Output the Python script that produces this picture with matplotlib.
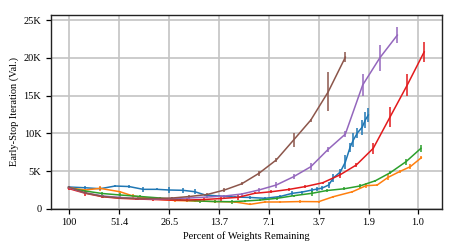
import matplotlib
matplotlib.use('Agg')
import matplotlib.pyplot as plt
from matplotlib.ticker import FixedLocator, NullLocator, FuncFormatter

plt.rcParams['font.family'] = ['Liberation Serif', 'DejaVu Serif']

# 各曲线数据 (剩余权重百分比, 早停迭代次数, 误差)
blue_x = [100, 80.4, 66.0, 54.1, 45.0, 37.4, 31.1, 26.5, 22.1, 18.9, 16.5, 13.7, 11.1, 9.12,
          7.49, 6.14, 5.24, 4.60, 4.03, 3.76, 3.53, 3.24, 3.05, 2.78, 2.60, 2.44, 2.34, 2.22,
          2.08, 2.00, 1.92]
blue_y = [2880, 2780, 2650, 3010, 2940, 2570, 2570, 2480, 2440, 2250, 1820, 1680, 1550, 1490,
          1380, 1620, 2040, 2210, 2480, 2610, 2740, 3140, 4070, 4870, 6190, 8180, 9110, 10040,
          10830, 11760, 12430]
blue_err = [150, 200, 200, 150, 150, 300, 150, 400, 350, 300, 150, 150, 150, 150,
            150, 150, 300, 200, 300, 250, 300, 400, 500, 400, 900, 600, 900, 700,
            1000, 1100, 900]

orange_x = [100, 80.4, 66.0, 50.7, 42.7, 31.9, 24.6, 18.9, 14.5, 11.1, 9.12, 7.49, 6.14,
            4.72, 3.70, 3.05, 2.37, 1.98, 1.71, 1.48, 1.27, 1.105, 0.956]
orange_y = [2790, 2480, 2700, 2250, 1680, 1290, 1090, 1020, 950, 890, 580, 890, 890,
            950, 930, 1590, 2250, 3050, 3140, 4160, 4930, 5570, 6760]
orange_err = [150, 150, 300, 150, 300, 150, 150, 150, 150, 150, 150, 150, 150,
              150, 150, 150, 150, 300, 150, 400, 150, 300, 200]

green_x = [100, 80.4, 64.3, 50.7, 38.9, 29.9, 23.0, 17.6, 14.5, 11.6, 9.74, 8.0, 6.4,
           5.15, 4.05, 3.32, 2.63, 2.15, 1.75, 1.44, 1.17, 0.96]
green_y = [2740, 2350, 2020, 1820, 1620, 1420, 1150, 1020, 950, 930, 1020, 1150, 1380,
           1720, 2040, 2410, 2650, 3010, 3710, 4770, 6230, 8010]
green_err = [150, 150, 150, 200, 150, 150, 150, 200, 150, 250, 150, 150, 200,
             150, 300, 150, 200, 300, 150, 200, 400, 500]

red_x = [100, 80, 64, 51.2, 41.0, 32.8, 26.2, 21.0, 16.8, 13.4, 10.7, 8.6, 6.9, 5.5,
         4.4, 3.5, 2.8, 2.25, 1.8, 1.44, 1.15, 0.92]
red_y = [2680, 2040, 1590, 1380, 1290, 1220, 1150, 1150, 1220, 1350, 1510, 2040, 2250, 2550,
         2940, 3450, 4470, 5800, 8010, 12200, 16400, 20800]
red_err = [150, 300, 150, 150, 150, 150, 150, 300, 150, 300, 300, 150, 200, 150,
           200, 150, 400, 300, 700, 1300, 1450, 1300]

purple_x = [100, 79.6, 63.4, 50.4, 40.1, 32.0, 25.4, 20.3, 16.1, 12.8, 10.2, 8.13, 6.47,
            5.15, 4.10, 3.26, 2.60, 2.07, 1.65, 1.31]
purple_y = [2810, 2080, 1680, 1490, 1350, 1290, 1350, 1420, 1550, 1680, 1950, 2480, 3140,
            4240, 5570, 7880, 9900, 16400, 20020, 23030]
purple_err = [150, 150, 150, 150, 150, 150, 150, 150, 150, 200, 200, 300, 400,
              300, 500, 300, 400, 1450, 1750, 1100]

brown_x = [100, 79.6, 63.4, 50.4, 40.1, 32.0, 25.4, 20.3, 16.1, 12.8, 10.2, 8.13, 6.47,
           5.15, 4.10, 3.26, 2.60]
brown_y = [2880, 2080, 1620, 1420, 1350, 1350, 1420, 1620, 1880, 2480, 3300, 4690, 6460,
           9100, 11760, 15500, 20100]
brown_err = [150, 150, 150, 150, 150, 150, 150, 150, 150, 300, 200, 300, 300,
             900, 200, 2600, 700]

x_ticks = [100, 51.4, 26.5, 13.7, 7.1, 3.7, 1.9, 1.0]
x_tick_labels = ['100', '51.4', '26.5', '13.7', '7.1', '3.7', '1.9', '1.0']
y_ticks = [0, 5000, 10000, 15000, 20000, 25000]
y_tick_labels = ['0', '5K', '10K', '15K', '20K', '25K']

fig = plt.figure(figsize=(4.57, 2.52), dpi=100)
ax = fig.add_axes([0.1116, 0.1718, 0.8549, 0.7687])

series = [
    (blue_x, blue_y, blue_err, '#1f77b4'),
    (orange_x, orange_y, orange_err, '#ff7f0e'),
    (green_x, green_y, green_err, '#2ca02c'),
    (red_x, red_y, red_err, '#e31a1c'),
    (purple_x, purple_y, purple_err, '#9467bd'),
    (brown_x, brown_y, brown_err, '#8c564b'),
]
for xs, ys, es, c in series:
    ax.errorbar(xs, ys, yerr=es, color=c, linewidth=1.1, elinewidth=1.1, capsize=0, zorder=3)

ax.set_xscale('log')
ax.set_xlim(126, 0.73)
ax.set_ylim(0, 25700)
ax.xaxis.set_major_locator(FixedLocator(x_ticks))
ax.xaxis.set_minor_locator(NullLocator())
ax.set_xticklabels(x_tick_labels)
ax.set_yticks(y_ticks)
ax.set_yticklabels(y_tick_labels)

ax.grid(True, color='#c4c4c4', linewidth=1.2, zorder=0)
ax.set_axisbelow(True)
for s in ax.spines.values():
    s.set_color('#222222')
    s.set_linewidth(1.0)
ax.tick_params(labelsize=7.5, length=3.5, width=0.9, direction='out')

ax.set_xlabel("Percent of Weights Remaining", fontsize=7.5, labelpad=3)
ax.set_ylabel("Early-Stop Iteration (Val.)", fontsize=7.5, labelpad=3)

plt.savefig('out.png', dpi=100)
